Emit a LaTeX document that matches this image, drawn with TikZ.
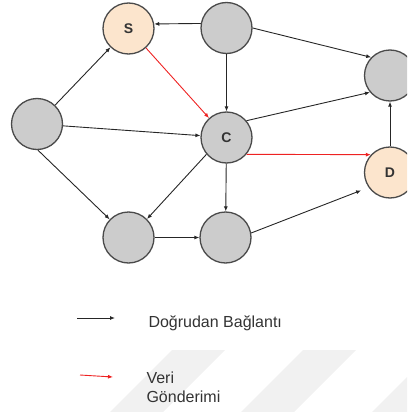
\documentclass[tikz,border=0pt]{standalone}
\usepackage{fontspec}
\setmainfont{Liberation Sans}
\usepackage{tikz}
\usetikzlibrary{positioning,arrows.meta}
\definecolor{vfill}{HTML}{CCCCCC}
\definecolor{sfill}{HTML}{FCE5CD}
\definecolor{vline}{HTML}{4A4A4A}
\definecolor{txt}{HTML}{333333}
\definecolor{sendred}{HTML}{EE2222}
\definecolor{wmark}{HTML}{F1F1F1}
\tikzset{
  vtx/.style={circle,draw=vline,fill=vfill,line width=1.3pt,minimum size=51pt,inner sep=0pt,
    font=\fontsize{14}{14}\selectfont\bfseries,text=txt},
  endpt/.style={vtx,fill=sfill},              % source / destination
  lnk/.style={-{Latex[length=5pt,width=4pt]},line width=0.9pt,black!85},
  sendln/.style={-{Latex[length=5pt,width=4pt]},line width=0.9pt,sendred},
  lgd/.style={anchor=west,align=left,text=txt,font=\fontsize{16}{19}\selectfont},
  stripe/.style={fill=wmark},
}
\begin{document}
\begin{tikzpicture}[x=1pt,y=-1pt]
  \useasboundingbox (0,0) rectangle (407,412);
  \begin{scope}
    \clip (0,0) rectangle (407,412);
    % faint watermark stripes
    \foreach \k in {0,1,2}{
      \fill[stripe] (172+131*\k,350) -- (225+131*\k,350) -- (163+131*\k,412) -- (110+131*\k,412) -- cycle;
    }
    % nodes
    \node[endpt] (S) at (128.5,28.5) {S};
    \node[vtx] (T) at (226.5,28) {};
    \node[vtx] (R) at (390,75.5) {};
    \node[vtx] (L) at (37,124) {};
    \node[vtx] (C) at (226.5,137.5) {C};
    \node[endpt] (D) at (390,172.5) {D};
    \node[vtx] (BL) at (128.5,237.5) {};
    \node[vtx] (BM) at (225.5,237.5) {};
    % direct links
    \draw[lnk] (T.170) -- (S.10);
    \draw[lnk] (T.east) -- (R.136);
    \draw[lnk] (T) -- (C);
    \draw[lnk] (L) -- (S);
    \draw[lnk] (L) -- (C);
    \draw[lnk] (L.-88) -- (BL.136);
    \draw[lnk] (C.40) -- (R.220);
    \draw[lnk] (C.220) -- (BL.45);
    \draw[lnk] (C) -- (BM);
    \draw[lnk] (BL) -- (BM);
    \draw[lnk,shorten >=8pt] (BM.10) -- (D.215);
    \draw[lnk] (D) -- (R);
    % data path
    \draw[sendln] (S) -- (C);
    \draw[sendln] (C.-40) -- (D.137);
  \end{scope}
  % legend
  \coordinate (k1a) at (77,318);
  \coordinate (k1b) at (115,318);
  \coordinate (k2a) at (80,375);
  \coordinate (k2b) at (113,377);
  \draw[lnk] (k1a) -- (k1b);
  \draw[sendln] (k2a) -- (k2b);
  \node[lgd] (lg1) at (145,323) {Doğrudan Bağlantı};
  \node[lgd] (lg2) at (143,387.5) {Veri\\Gönderimi};
\end{tikzpicture}
\end{document}
